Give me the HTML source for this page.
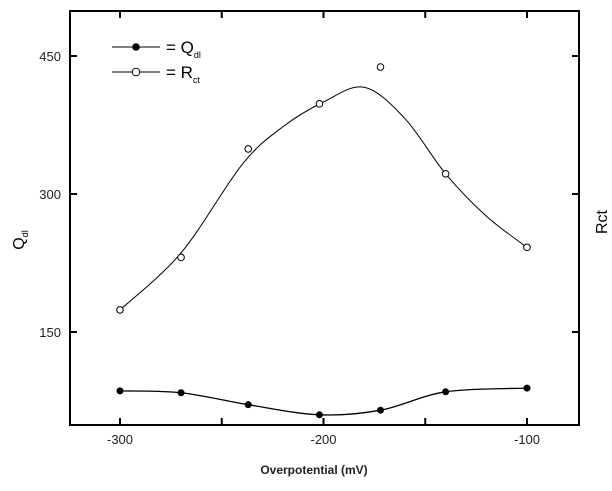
<!DOCTYPE html>
<html><head><meta charset="utf-8"><style>
body{margin:0;background:#fff;}
svg{display:block;font-family:"Liberation Sans",Arial,sans-serif;}
</style></head><body>
<svg id="chart" width="612" height="491" viewBox="0 0 612 491">
<rect x="0" y="0" width="612" height="491" fill="#fff"/>
<g id="plot"></g>
</svg>
<script>
const xValues=[-300,-270,-237,-202,-172,-140,-100];
const rctValues=[174,231,349,398,438,322,242];
const qdlValues=[86,84,71,60,65,85,89];
const fitX=[-300,-270,-240,-220,-200,-180,-160,-140,-120,-100];
const rctFit=[174,236,332,373,400,416,382,322,276,242];
const xTicks=[-300,-250,-200,-150,-100];
const xTickLabels=["-300","","-200","","-100"];
const yTicks=[150,300,450];
const yTickLabels=["150","300","450"];

const L=70,R=579,T=11,B=425;
function sx(v){return 120+(v+300)*2.035;}
function sy(v){return 332-(v-150)*0.92;}
const NS="http://www.w3.org/2000/svg";
const g=document.getElementById('plot');
function mk(tag,attrs,parent){const e=document.createElementNS(NS,tag);for(const k in attrs)e.setAttribute(k,attrs[k]);(parent||g).appendChild(e);return e;}

function spline(xs,ys){
  const p=xs.map((x,i)=>[sx(x),sy(ys[i])]);
  let d="M"+p[0][0]+","+p[0][1];
  for(let i=0;i<p.length-1;i++){
    const p0=p[Math.max(0,i-1)],p1=p[i],p2=p[i+1],p3=p[Math.min(p.length-1,i+2)];
    const c1=[p1[0]+(p2[0]-p0[0])/6,p1[1]+(p2[1]-p0[1])/6];
    const c2=[p2[0]-(p3[0]-p1[0])/6,p2[1]-(p3[1]-p1[1])/6];
    d+=" C"+c1[0]+","+c1[1]+" "+c2[0]+","+c2[1]+" "+p2[0]+","+p2[1];
  }
  return d;
}

let e;
e=mk('path',{d:spline(fitX,rctFit),fill:'none',stroke:'#000','stroke-width':1});


e=mk('path',{d:spline(xValues,qdlValues),fill:'none',stroke:'#000','stroke-width':1.3});


xValues.forEach((x,i)=>{
  let c=mk('circle',{cx:sx(x),cy:sy(rctValues[i]),r:3.3,fill:'#fff',stroke:'#000','stroke-width':1});
  
  
  c=mk('circle',{cx:sx(x),cy:sy(qdlValues[i]),r:3.5,fill:'#000'});
  
  
});

e=mk('rect',{x:L,y:T,width:R-L,height:B-T,fill:'none',stroke:'#000','stroke-width':2});



xTicks.forEach((v,i)=>{
  const x=sx(v);
  let t=mk('line',{x1:x,x2:x,y1:B,y2:B-7,stroke:'#000','stroke-width':2});
  
  
  t=mk('line',{x1:x,x2:x,y1:T,y2:T+7,stroke:'#000','stroke-width':2});
  
  
  if(xTickLabels[i]){
    const l=mk('text',{x:x,y:B+19,'text-anchor':'middle','font-size':13,fill:'#222'});
    l.textContent=xTickLabels[i];
    
    
  }
});
yTicks.forEach((v,i)=>{
  const y=sy(v);
  let t=mk('line',{x1:L,x2:L+7,y1:y,y2:y,stroke:'#000','stroke-width':2});
  
  
  t=mk('line',{x1:R,x2:R-7,y1:y,y2:y,stroke:'#000','stroke-width':2});
  
  
  const l=mk('text',{x:L-9,y:y+5,'text-anchor':'end','font-size':13,fill:'#222'});
  l.textContent=yTickLabels[i];
  
  
});
</script>
<svg style="position:absolute;left:0;top:0" width="612" height="491">
<text x="314" y="474" text-anchor="middle" font-size="12" font-weight="bold" fill="#222" font-family="Liberation Sans, sans-serif">Overpotential (mV)</text>
<text transform="translate(24,240) rotate(-90)" text-anchor="middle" font-size="16" fill="#000" font-family="Liberation Sans, sans-serif">Q<tspan font-size="9" dy="4">dl</tspan></text>
<text transform="translate(607,222) rotate(-90)" text-anchor="middle" font-size="16" fill="#000" font-family="Liberation Sans, sans-serif">Rct</text>
<g>
<line x1="112" x2="160" y1="47" y2="47" stroke="#000"/>
<circle cx="136" cy="47" r="3.8" fill="#000"/>
<text x="166" y="53" font-size="17" fill="#000" font-family="Liberation Sans, sans-serif">= Q<tspan font-size="9" dy="5">dl</tspan></text>
<line x1="112" x2="160" y1="72" y2="72" stroke="#000"/>
<circle cx="136" cy="72" r="3.8" fill="#fff" stroke="#000"/>
<text x="166" y="78" font-size="17" fill="#000" font-family="Liberation Sans, sans-serif">= R<tspan font-size="9" dy="5">ct</tspan></text>
</g>
</svg>
</body></html>
